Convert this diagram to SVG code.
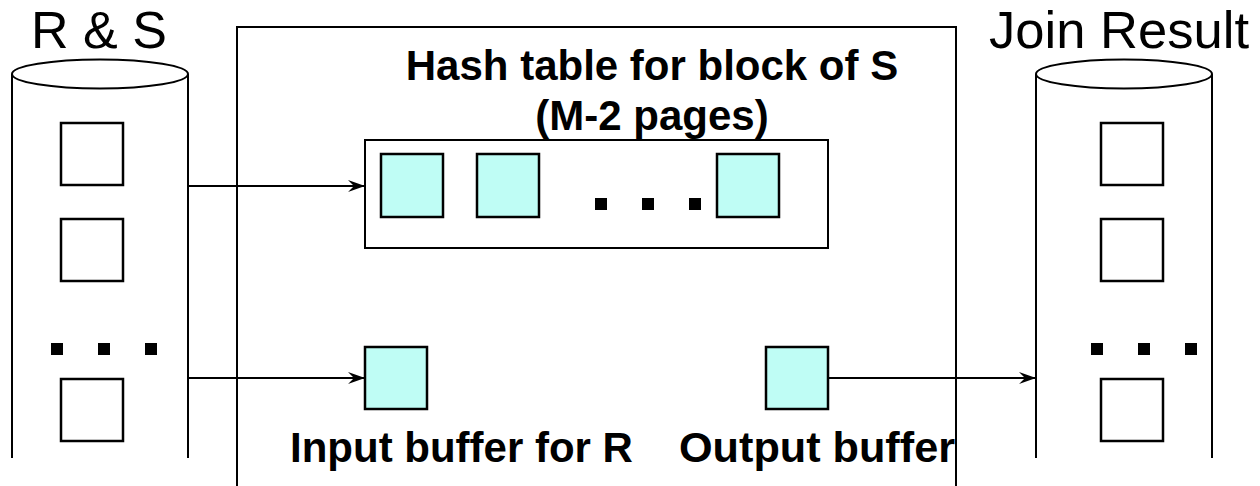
<svg xmlns="http://www.w3.org/2000/svg" width="1260" height="486" viewBox="0 0 1260 486">
<style>
.ln{fill:none;stroke:#000;stroke-width:2}
.pg{fill:#fff;stroke:#000;stroke-width:2.5}
.cy{fill:#bffdf5;stroke:#000;stroke-width:2.5}
.dot{fill:#000}
.big{font-family:"Liberation Sans",Arial,sans-serif;font-size:52px;fill:#000}
.lbl{font-family:"Liberation Sans",Arial,sans-serif;font-size:42px;font-weight:bold;fill:#000}
</style>
<defs>
<marker id="ah" markerWidth="18" markerHeight="14" refX="17" refY="7" orient="auto" markerUnits="userSpaceOnUse">
<path d="M0,1 L17,7 L0,13 L6,7 Z" fill="#000"/>
</marker>
</defs>
<rect width="1260" height="486" fill="#fff"/>
<g id="memory">
<rect x="237" y="27" width="719" height="480" class="ln" stroke-width="2.5"/>
</g>
<g id="rs-disk">
<text x="31" y="48" class="big">R &amp; S</text>
<path d="M12,74 L12,458 M188,74 L188,458" class="ln"/>
<ellipse cx="100" cy="74" rx="88" ry="14.5" class="ln" fill="#fff"/>
<rect x="61" y="123" width="62" height="62" class="pg"/>
<rect x="61" y="219" width="62" height="62" class="pg"/>
<rect x="51" y="343" width="12" height="12" class="dot"/>
<rect x="98" y="343" width="12" height="12" class="dot"/>
<rect x="145" y="343" width="12" height="12" class="dot"/>
<rect x="61" y="379" width="62" height="62" class="pg"/>
</g>
<g id="join-disk">
<text x="989" y="48" class="big" textLength="260" lengthAdjust="spacingAndGlyphs">Join Result</text>
<path d="M1036,74 L1036,458 M1212,74 L1212,458" class="ln"/>
<ellipse cx="1124" cy="74" rx="88" ry="14.5" class="ln" fill="#fff"/>
<rect x="1101" y="123" width="62" height="62" class="pg"/>
<rect x="1101" y="219" width="62" height="62" class="pg"/>
<rect x="1091" y="343" width="12" height="12" class="dot"/>
<rect x="1138" y="343" width="12" height="12" class="dot"/>
<rect x="1185" y="343" width="12" height="12" class="dot"/>
<rect x="1101" y="379" width="62" height="62" class="pg"/>
</g>
<g id="hash-table">
<text x="652" y="80" class="lbl" text-anchor="middle">Hash table for block of S</text>
<text x="652" y="130" class="lbl" text-anchor="middle">(M-2 pages)</text>
<rect x="365" y="140" width="463" height="108" class="ln" stroke-width="2.5"/>
<rect x="381" y="154" width="62" height="63" class="cy"/>
<rect x="477" y="154" width="62" height="63" class="cy"/>
<rect x="595" y="198" width="12" height="12" class="dot"/>
<rect x="642" y="198" width="12" height="12" class="dot"/>
<rect x="689" y="198" width="12" height="12" class="dot"/>
<rect x="717" y="154" width="62" height="63" class="cy"/>
</g>
<g id="input-buffer">
<rect x="365" y="347" width="62" height="62" class="cy"/>
<text x="290" y="462" class="lbl">Input buffer for R</text>
</g>
<g id="output-buffer">
<rect x="766" y="347" width="62" height="62" class="cy"/>
<text x="679" y="462" class="lbl" textLength="276" lengthAdjust="spacingAndGlyphs">Output buffer</text>
</g>
<g id="connectors">
<line x1="188" y1="186" x2="365" y2="186" class="ln" marker-end="url(#ah)"/>
<line x1="188" y1="378" x2="365" y2="378" class="ln" marker-end="url(#ah)"/>
<line x1="828" y1="378" x2="1036" y2="378" class="ln" marker-end="url(#ah)"/>
</g>
</svg>
